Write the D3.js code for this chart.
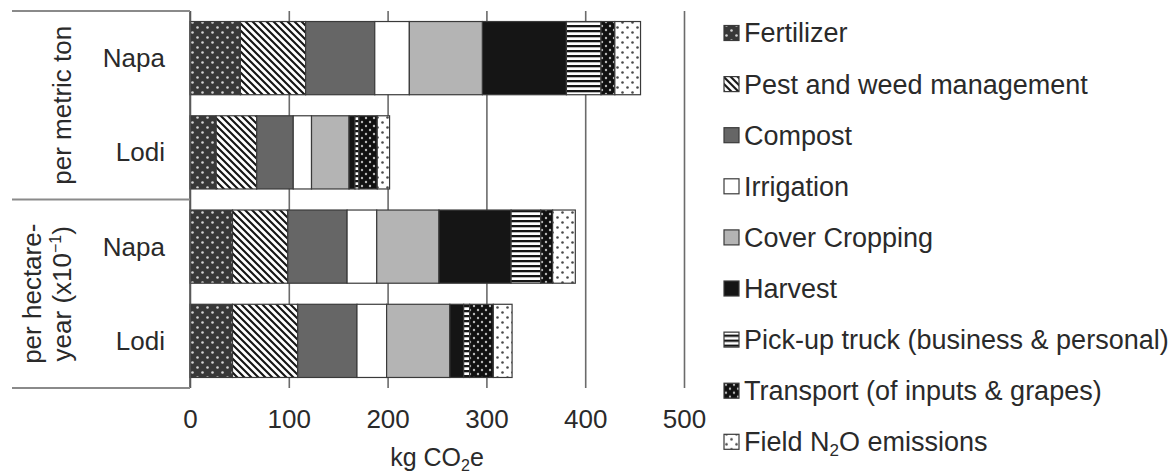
<!DOCTYPE html>
<html>
<head>
<meta charset="utf-8">
<script src="https://cdn.jsdelivr.net/npm/d3@7"></script>
<style>
	body { margin: 0; background: #fff; }
	svg text { font-family: "Liberation Sans", Arial, sans-serif; fill: #2a2a2a; }
</style>
</head>
<body>
<svg id="chart" width="1173" height="475"></svg>
<script>

// emission sources, in stacking order
var sources = ["Fertilizer", "Pest and weed management", "Compost", "Irrigation", "Cover Cropping",
	"Harvest", "Pick-up truck (business & personal)", "Transport (of inputs & grapes)", "Field N2O emissions"];

// rows of the chart, top to bottom
var rowKeys = ["napaTon", "lodiTon", "napaHa", "lodiHa"];
var rowLabels = ["Napa", "Lodi", "Napa", "Lodi"];

// kg CO2e per source
var napaTon = [51, 66, 70, 35, 74, 85, 35, 14, 26];
var lodiTon = [26.5, 41, 37, 18.5, 38, 6, 4, 18.5, 12.5];
var napaHa  = [43, 56, 60, 30, 63, 73, 30, 12, 23];
var lodiHa  = [43, 66, 60, 30, 64, 14, 6, 24, 19];

var xTicks = [0, 100, 200, 300, 400, 500];

var svg = d3.select("#chart");

var margin = {top: 11, left: 190},
	plotW = 494,
	plotH = 377;

var x = d3.scaleLinear().domain([0, 500]).range([margin.left, margin.left + plotW]);
var y = d3.scaleBand().domain(rowKeys)
	.range([margin.top, margin.top + plotH])
	.paddingInner(0.2234).paddingOuter(0.1117);

// ---- patterns
var defs = svg.append("defs");

function dots(id, size, bg, fg, r) {
	var p = defs.append("pattern").attr("id", id)
		.attr("patternUnits", "userSpaceOnUse")
		.attr("width", size).attr("height", size);
	p.append("rect").attr("width", size).attr("height", size).attr("fill", bg);
	p.append("circle").attr("cx", size / 4).attr("cy", size / 4).attr("r", r).attr("fill", fg);
	p.append("circle").attr("cx", size * 3 / 4).attr("cy", size * 3 / 4).attr("r", r).attr("fill", fg);
}
dots("p-fert", 10, "#383838", "#d4d4d4", 1.3);
dots("p-trans", 8, "#111", "#b8b8b8", 1.2);
dots("p-n2o", 10, "#fff", "#4a4a4a", 1.3);

var pest = defs.append("pattern").attr("id", "p-pest")
	.attr("patternUnits", "userSpaceOnUse").attr("width", 7).attr("height", 7);
pest.append("rect").attr("width", 7).attr("height", 7).attr("fill", "#fff");
pest.append("path").attr("d", "M0,0L7,7M-2,5L2,9M5,-2L9,2")
	.attr("stroke", "#151515").attr("stroke-width", 2.1);

var truck = defs.append("pattern").attr("id", "p-truck")
	.attr("patternUnits", "userSpaceOnUse").attr("width", 6).attr("height", 5);
truck.append("rect").attr("width", 6).attr("height", 5).attr("fill", "#fff");
truck.append("rect").attr("width", 6).attr("height", 2.3).attr("fill", "#151515");

var fills = ["url(#p-fert)", "url(#p-pest)", "#666", "#fff", "#b4b4b4",
	"#151515", "url(#p-truck)", "url(#p-trans)", "url(#p-n2o)"];

// ---- gridlines + tick labels
var xAxis = svg.append("g")
	.attr("class", "axis axis--x")
	.attr("transform", "translate(0," + (margin.top + plotH) + ")")
	.call(d3.axisBottom(x).tickValues(xTicks).tickSizeInner(-plotH).tickSizeOuter(0).tickPadding(22));
xAxis.select(".domain").remove();
xAxis.selectAll("line").attr("stroke", "#6b6b6b").attr("stroke-width", 1.6);
xAxis.selectAll("text").attr("font-size", 26).attr("fill", "#2a2a2a")
	.style("font-family", "\"Liberation Sans\", Arial, sans-serif");

var title = svg.append("text")
	.attr("x", margin.left + plotW / 2).attr("y", 466)
	.attr("text-anchor", "middle").attr("font-size", 25);
title.append("tspan").text("kg CO");
title.append("tspan").attr("font-size", 16).attr("dy", 5).text("2");
title.append("tspan").attr("dy", -5).text("e");

// ---- bars
var table = rowKeys.map(function(k, i) {
	var vals = [napaTon, lodiTon, napaHa, lodiHa][i];
	var row = {key: k};
	sources.forEach(function(s, j) { row[s] = vals[j]; });
	return row;
});
var series = d3.stack().keys(sources)(table);

svg.append("g").selectAll("g")
	.data(series)
	.enter().append("g")
	.attr("fill", function(d, i) { return fills[i]; })
	.selectAll("rect")
	.data(function(d) { return d; })
	.enter().append("rect")
	.attr("x", function(d) { return x(d[0]); })
	.attr("y", function(d) { return y(d.data.key); })
	.attr("width", function(d) { return x(d[1]) - x(d[0]); })
	.attr("height", y.bandwidth())
	.attr("stroke", "#3a3a3a")
	.attr("stroke-width", 1.2);

// ---- category axis with two levels
svg.append("line")
	.attr("x1", margin.left).attr("x2", margin.left)
	.attr("y1", margin.top).attr("y2", margin.top + plotH)
	.attr("stroke", "#555").attr("stroke-width", 1.6);

var seps = [margin.top, (y("lodiTon") + y.bandwidth() + y("napaHa")) / 2, margin.top + plotH];
svg.append("g").selectAll("line")
	.data(seps)
	.enter().append("line")
	.attr("x1", 12).attr("x2", margin.left)
	.attr("y1", function(d) { return d; }).attr("y2", function(d) { return d; })
	.attr("stroke", "#8a8a8a").attr("stroke-width", 1.8);

svg.append("g").selectAll("text")
	.data(rowKeys)
	.enter().append("text")
	.attr("x", 165)
	.attr("y", function(d) { return y(d) + y.bandwidth() / 2; })
	.attr("dy", "0.35em")
	.attr("text-anchor", "end")
	.attr("font-size", 26)
	.text(function(d, i) { return rowLabels[i]; });

var g1y = (seps[0] + seps[1]) / 2,
	g2y = (seps[1] + seps[2]) / 2;

svg.append("text")
	.attr("transform", "translate(71," + g1y + ") rotate(-90)")
	.attr("text-anchor", "middle").attr("font-size", 26)
	.text("per metric ton");

svg.append("text")
	.attr("transform", "translate(41," + g2y + ") rotate(-90)")
	.attr("text-anchor", "middle").attr("font-size", 26)
	.text("per hectare-");

var yr = svg.append("text")
	.attr("transform", "translate(71," + g2y + ") rotate(-90)")
	.attr("text-anchor", "middle").attr("font-size", 26);
yr.append("tspan").text("year (x10");
yr.append("tspan").attr("font-size", 16).attr("dy", -10).text("\u22121");
yr.append("tspan").attr("dy", 10).text(")");

// ---- legend
var legend = svg.append("g").selectAll("g")
	.data(sources)
	.enter().append("g")
	.attr("transform", function(d, i) { return "translate(724," + (33 + i * 51.1) + ")"; });

legend.append("rect")
	.attr("x", 0).attr("y", -7.5).attr("width", 15).attr("height", 15)
	.attr("fill", function(d, i) { return fills[i]; })
	.attr("stroke", "#3a3a3a").attr("stroke-width", 1.2);

legend.append("text")
	.attr("x", 20).attr("dy", "0.35em")
	.attr("font-size", 27)
	.each(function(d) {
		var t = d3.select(this);
		if (d.indexOf("N2O") >= 0) {
			t.append("tspan").text("Field N");
			t.append("tspan").attr("font-size", 17).attr("dy", 5).text("2");
			t.append("tspan").attr("dy", -5).text("O emissions");
		} else {
			t.text(d);
		}
	});

</script>
</body>
</html>
